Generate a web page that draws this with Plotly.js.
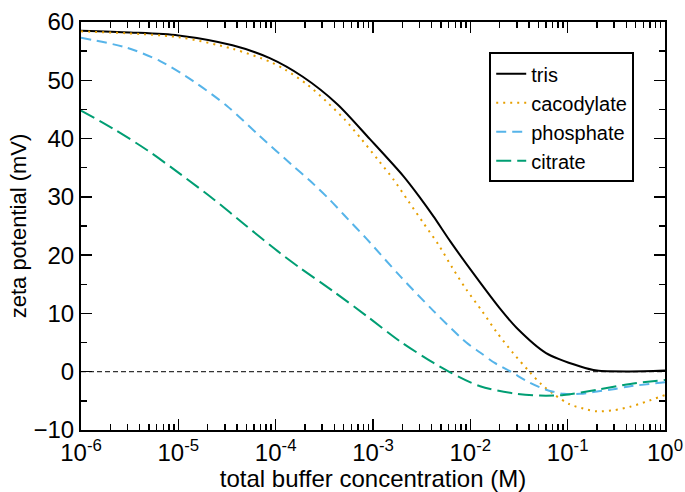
<!DOCTYPE html>
<html>
<head>
<meta charset="utf-8">
<script src="https://cdn.plot.ly/plotly-3.0.1.min.js"></script>
<style>html,body{margin:0;padding:0;background:#fff;}#chart{width:685px;height:492px;}</style>
</head>
<body>
<div id="chart"></div>
<script>
// total buffer concentration (M) and zeta potential (mV)
const trisX = [1e-6, 3.2e-6, 1e-5, 3.6e-5, 8.7e-5, 1.9e-4, 4.3e-4, 9.3e-4, 2.04e-3, 3.0e-3, 4.2e-3, 6.2e-3, 1.07e-2, 2.0e-2, 3.0e-2, 6.0e-2, 0.135, 0.2, 0.44, 1];
const trisY = [58.5, 58.2, 57.7, 56.0, 53.8, 50.6, 45.9, 39.9, 33.6, 30.0, 26.6, 22.4, 16.9, 10.9, 7.5, 3.2, 0.9, 0.2, 0.05, 0.2];

const cacoX = [1e-6, 1e-5, 3.6e-5, 8.7e-5, 1.26e-4, 2.1e-4, 3.3e-4, 5.1e-4, 7.6e-4, 1.12e-3, 1.62e-3, 2.3e-3, 3.3e-3, 4.7e-3, 6.5e-3, 9.1e-3, 1.32e-2, 1.86e-2, 2.75e-2, 4.1e-2, 5.4e-2, 7.4e-2, 0.105, 0.16, 0.2, 0.3, 0.44, 0.65, 1];
const cacoY = [58.4, 57.4, 55.4, 53.2, 51.8, 49.3, 46.4, 43.3, 39.9, 36.4, 33.0, 29.3, 25.5, 21.8, 17.9, 14.1, 10.4, 6.8, 3.2, -0.1, -2.2, -4.0, -5.6, -6.5, -6.8, -6.6, -6.0, -5.1, -4.0];

const phosX = [1e-6, 2.95e-6, 6.5e-6, 1.41e-5, 3.16e-5, 6.9e-5, 1.51e-4, 2.24e-4, 3.6e-4, 5.1e-4, 8.7e-4, 1.9e-3, 4.2e-3, 9.1e-3, 1.26e-2, 1.78e-2, 2.6e-2, 4.1e-2, 6.0e-2, 9.1e-2, 0.135, 0.2, 0.295, 0.44, 1];
const phosY = [57.3, 55.6, 53.3, 49.9, 45.6, 40.4, 35.3, 32.8, 29.5, 26.8, 22.7, 16.4, 10.4, 5.0, 3.3, 1.5, 0.0, -1.9, -3.1, -3.8, -3.8, -3.4, -3.0, -2.5, -1.8];

const citrX = [1e-6, 2.14e-6, 4.8e-6, 1.05e-5, 2.3e-5, 5.0e-5, 1.1e-4, 1.78e-4, 3.9e-4, 8.7e-4, 1.9e-3, 4.2e-3, 6.2e-3, 1.26e-2, 2.75e-2, 5.2e-2, 9.1e-2, 0.2, 0.44, 1];
const citrY = [44.8, 41.7, 38.0, 33.9, 29.6, 25.0, 20.4, 17.8, 13.8, 9.5, 5.2, 1.5, -0.1, -2.5, -3.7, -4.1, -4.0, -3.1, -2.1, -1.4];

const xTickVals = [1e-6, 1e-5, 1e-4, 1e-3, 1e-2, 1e-1, 1];
const xTickText = ['10<sup>-6</sup>', '10<sup>-5</sup>', '10<sup>-4</sup>', '10<sup>-3</sup>', '10<sup>-2</sup>', '10<sup>-1</sup>', '10<sup>0</sup>'];

const names = ['tris', 'cacodylate', 'phosphate', 'citrate'];
const colors = ['#000000', '#E69F00', '#56B4E9', '#009E73'];
const dashes = ['solid', '2px,5px', '10px,6px', '15px,6px'];
const xs = [trisX, cacoX, phosX, citrX];
const ys = [trisY, cacoY, phosY, citrY];

const traces = names.map((n, i) => ({
  x: xs[i], y: ys[i], name: n, type: 'scatter', mode: 'lines',
  line: {color: colors[i], width: 2, dash: dashes[i], shape: 'spline', smoothing: 0.8}
}));

const FONT = 'Liberation Sans, Arial, Helvetica, sans-serif';

const layout = {
  width: 685, height: 492,
  margin: {l: 81, r: 20, t: 22, b: 62},
  paper_bgcolor: '#fff', plot_bgcolor: '#fff',
  font: {family: FONT, color: '#000', size: 18},
  showlegend: true,
  legend: {
    x: 0.699, y: 0.926, xanchor: 'left', yanchor: 'top',
    bordercolor: '#000', borderwidth: 2, bgcolor: '#fff',
    font: {family: FONT, size: 20, color: '#000'},
    tracegroupgap: 0, itemwidth: 30
  },
  xaxis: {
    type: 'log', range: [-6, 0], tickvals: xTickVals, ticktext: xTickText,
    showgrid: false, zeroline: false,
    showline: true, linecolor: '#000', linewidth: 2, mirror: 'allticks',
    ticks: 'inside', ticklen: 11, tickwidth: 1.5, tickcolor: '#000',
    tickfont: {family: FONT, size: 24},
    minor: {ticks: 'inside', ticklen: 6, tickwidth: 1.5, tickcolor: '#000', dtick: 'D1', showgrid: false},
    title: {text: 'total buffer concentration (M)', font: {family: FONT, size: 24}, standoff: 4}
  },
  yaxis: {
    range: [-10, 60], dtick: 10,
    showgrid: false, zeroline: false,
    showline: true, linecolor: '#000', linewidth: 2, mirror: 'allticks',
    ticks: 'inside', ticklen: 11, tickwidth: 1.5, tickcolor: '#000',
    tickfont: {family: FONT, size: 24},
    minor: {ticks: 'inside', ticklen: 6, tickwidth: 1.5, tickcolor: '#000', dtick: 5, showgrid: false},
    title: {text: 'zeta potential (mV)', font: {family: FONT, size: 22}, standoff: 1}
  },
  shapes: [{
    type: 'line', xref: 'paper', yref: 'y', x0: 0, x1: 1, y0: 0, y1: 0,
    line: {color: '#000', width: 1, dash: '5px,3px'}, layer: 'below'
  }]
};

Plotly.newPlot('chart', traces, layout, {staticPlot: true, displayModeBar: false});
</script>
</body>
</html>
